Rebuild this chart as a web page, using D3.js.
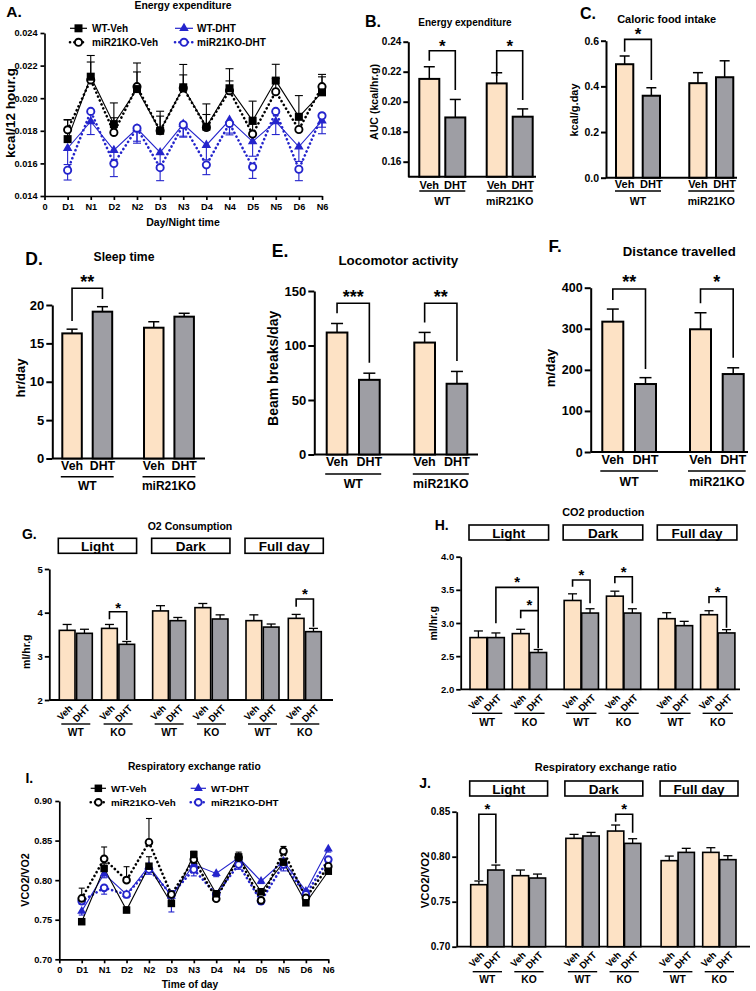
<!DOCTYPE html>
<html><head><meta charset="utf-8">
<script src="https://cdn.jsdelivr.net/npm/d3@7"></script>
<style>body{margin:0;background:#fff;}</style>
</head><body>
<svg id="chart" width="756" height="991" style="background:#fff"></svg>
<script>
// ---------------- DATA ----------------
const timeLabels = ["0","D1","N1","D2","N2","D3","N3","D4","N4","D5","N5","D6","N6"];
const treatments = ["Veh","DHT"];
const genotypesLong = ["WT","miR21KO"];
const genotypesShort = ["WT","KO"];
const periods = ["Light","Dark","Full day"];
const seriesNames = ["WT-Veh","WT-DHT","miR21KO-Veh","miR21KO-DHT"];

// A. Energy expenditure (kcal/12 hour.g)
const eeWTVeh    = [0.01749,0.02132,0.01841,0.02056,0.01800,0.02067,0.01825,0.02061,0.01862,0.02108,0.01886,0.02036];
const eeWTVehErr = [0.0012,0.0013,0.0013,0.0016,0.0012,0.0014,0.0014,0.0012,0.0012,0.0010,0.0013,0.0011];
const eeKOVeh    = [0.01806,0.02112,0.01790,0.02071,0.01800,0.02063,0.01820,0.02046,0.01780,0.02040,0.01808,0.02071];
const eeKOVehErr = [0.0006,0.0011,0.0009,0.0009,0.0009,0.0008,0.0008,0.0006,0.0006,0.0008,0.0006,0.0006];
const eeWTDHT    = [0.01693,0.01857,0.01681,0.01814,0.01667,0.01841,0.01712,0.01866,0.01734,0.01857,0.01702,0.01862];
const eeWTDHTErr = [0.0010,0.0008,0.0008,0.0009,0.0008,0.0008,0.0009,0.0008,0.0009,0.0008,0.0009,0.0008];
const eeKODHT    = [0.01558,0.01919,0.01599,0.01816,0.01574,0.01837,0.01591,0.01845,0.01578,0.01919,0.01564,0.01892];
const eeKODHTErr = [0.0006,0.0007,0.0008,0.0008,0.0008,0.0007,0.0006,0.0007,0.0007,0.0007,0.0007,0.0007];

// I. Respiratory exchange ratio over time
const rerWTVeh    = [0.7475,0.8147,0.7622,0.8176,0.7706,0.8324,0.7828,0.8294,0.7853,0.8227,0.7714,0.8113];
const rerWTVehErr = [0.003,0.006,0.004,0.012,0.004,0.004,0.004,0.006,0.004,0.005,0.003,0.004];
const rerKOVeh    = [0.7769,0.8269,0.8000,0.8479,0.7819,0.8260,0.7765,0.8285,0.7744,0.8366,0.7777,0.8176];
const rerKOVehErr = [0.013,0.015,0.017,0.030,0.004,0.004,0.004,0.004,0.004,0.006,0.004,0.004];
const rerWTDHT    = [0.7609,0.8080,0.7819,0.8176,0.7798,0.8197,0.8084,0.8282,0.7987,0.8240,0.7861,0.8395];
const rerWTDHTErr = [0.005,0.005,0.004,0.006,0.020,0.005,0.004,0.004,0.003,0.006,0.003,0.004];
const rerKODHT    = [0.7735,0.7903,0.7819,0.8134,0.7820,0.8134,0.7820,0.8197,0.7735,0.8197,0.7820,0.8260];
const rerKODHTErr = [0.004,0.008,0.004,0.006,0.004,0.008,0.004,0.006,0.004,0.008,0.004,0.004];

// Bar panels: order WT-Veh, WT-DHT, KO-Veh, KO-DHT (x periods for G,H,J)
const aucEE = [0.2152, 0.1895, 0.2122, 0.1900];
const aucEEErr = [0.0081, 0.0120, 0.0071, 0.0052];
const foodIntake = [0.497, 0.359, 0.414, 0.440];
const foodIntakeErr = [0.036, 0.035, 0.046, 0.072];
const sleepTime = [16.30, 19.13, 17.04, 18.48];
const sleepTimeErr = [0.55, 0.65, 0.78, 0.44];
const locomotor = [111.9, 68.5, 102.7, 64.9];
const locomotorErr = [8.3, 6.1, 9.3, 11.3];
const distance = [317.3, 165.5, 298.8, 189.8];
const distanceErr = [30.7, 15.5, 40.2, 15.2];
const o2 = [3.595,3.527,3.640,3.275, 4.040,3.817,4.115,3.855, 3.817,3.670,3.870,3.565];
const o2Err = [0.135,0.093,0.090,0.065, 0.120,0.073,0.095,0.095, 0.133,0.070,0.090,0.075];
const co2 = [2.780,2.780,2.840,2.555, 3.340,3.150,3.405,3.150, 3.065,2.960,3.125,2.850];
const co2Err = [0.100,0.070,0.065,0.045, 0.100,0.065,0.075,0.065, 0.090,0.065,0.060,0.050];
const rerBar = [0.7689,0.7852,0.7789,0.7763, 0.8204,0.8230,0.8285,0.8148, 0.7956,0.8048,0.8048,0.7967];
const rerBarErr = [0.0041,0.0055,0.0063,0.0044, 0.0044,0.0040,0.0067,0.0052, 0.0051,0.0045,0.0052,0.0044];

// ---------------- DRAWING ----------------
const FONT = '"Liberation Sans", Arial, Helvetica, sans-serif';
const VEHC = "#fde2c5", DHTC = "#9e9ea4", BLUE = "#2424cc";
const svg = d3.select("#chart");

function T(x, y, s, size, o = {}) {
  const t = svg.append("text").attr("x", x).attr("y", y).attr("font-size", size)
    .attr("text-anchor", o.anchor || "middle").attr("dominant-baseline", o.base || "central")
    .attr("font-family", FONT).attr("font-weight", "bold").attr("fill", o.fill || "#000").text(s);
  if (o.rot) t.attr("transform", `rotate(${o.rot},${x},${y})`);
  return t;
}
function star(x, yc, s, size) {
  svg.append("text").attr("x", x).attr("y", yc + 0.56 * size).attr("font-size", size)
    .attr("text-anchor", "middle").attr("font-family", FONT).attr("font-weight", "bold").text(s);
}
function styleAxis(g, size, w) {
  g.attr("font-family", FONT).attr("font-size", size).attr("font-weight", "bold");
  g.selectAll("line").attr("stroke-width", w);
  g.select(".domain").attr("stroke-width", w);
  g.selectAll("text").attr("fill", "#000");
}

function barPanel(c) {
  const y = d3.scaleLinear().domain(c.domain).range([c.bottom, c.top]);
  const x = d3.scaleLinear().domain([0, 1]).range([c.left, c.left + c.step]);
  const slot = i => Math.floor(i / 4) * (c.pStep || 0) + (Math.floor(i / 2) % 2) * c.gStep + (i % 2);
  const bx = i => x(slot(i));
  const cx = i => bx(i) + c.barW / 2;
  const base = y(c.domain[0]);

  const ga = svg.append("g").attr("transform", `translate(${c.axisX},0)`)
    .call(d3.axisLeft(y).tickValues(c.ticks).tickFormat(d3.format(c.fmt)).tickSize(c.tickLen).tickSizeOuter(0).tickPadding(2));
  styleAxis(ga, c.tickFont, c.axisW);
  svg.append("line").attr("x1", c.axisX).attr("x2", c.axisEnd).attr("y1", base).attr("y2", base)
    .attr("stroke", "#000").attr("stroke-width", c.axisW);

  svg.append("g").selectAll("rect").data(c.values).join("rect")
    .attr("x", (d, i) => bx(i)).attr("y", d => y(d)).attr("width", c.barW).attr("height", d => base - y(d))
    .attr("fill", (d, i) => i % 2 ? DHTC : VEHC).attr("stroke", "#000").attr("stroke-width", c.barStroke);

  const eg = svg.append("g").attr("stroke", "#000").attr("stroke-width", c.errW);
  c.values.forEach((v, i) => {
    const yt = y(v + c.errs[i]);
    eg.append("line").attr("x1", cx(i)).attr("x2", cx(i)).attr("y1", y(v)).attr("y2", yt);
    eg.append("line").attr("x1", cx(i) - c.capW / 2).attr("x2", cx(i) + c.capW / 2).attr("y1", yt).attr("y2", yt);
  });

  c.values.forEach((v, i) => {
    if (c.rot) T(cx(i) + 6, base + 9, treatments[i % 2], c.labFont, {anchor: "end", base: "alphabetic", rot: -45});
    else T(cx(i), c.labY, treatments[i % 2], c.labFont);
  });
  for (let k = 0; k < c.values.length / 2; k++) {
    const x1 = bx(2 * k) - c.ulExt, x2 = bx(2 * k + 1) + c.barW + c.ulExt;
    svg.append("line").attr("x1", x1).attr("x2", x2).attr("y1", c.ulY).attr("y2", c.ulY).attr("stroke", "#000").attr("stroke-width", c.ulW || 1.5);
    T((x1 + x2) / 2, c.gY, c.groupNames[k % 2], c.gFont);
  }
  if (c.boxTop) {
    periods.forEach((p, k) => {
      const x1 = bx(4 * k) - 1, x2 = bx(4 * k + 3) + c.barW + 2;
      svg.append("rect").attr("x", x1).attr("y", c.boxTop).attr("width", x2 - x1).attr("height", c.boxH)
        .attr("fill", "#fff").attr("stroke", "#000").attr("stroke-width", 1.6);
      T((x1 + x2) / 2, c.boxTop + c.boxH / 2 + 0.5, p, c.boxFont);
    });
  }
  (c.brackets || []).forEach(b => {
    svg.append("path").attr("d", `M${cx(b.a)},${y(b.la)}V${y(b.top)}H${cx(b.b)}V${y(b.lb)}`)
      .attr("fill", "none").attr("stroke", "#000").attr("stroke-width", c.brW || 1.6);
    star((cx(b.a) + cx(b.b)) / 2, y(b.sy), b.s, c.starSize);
  });
}

function marker(g, type, x, y, color, s) {
  if (type === "square") g.append("rect").attr("x", x - s / 2).attr("y", y - s / 2).attr("width", s).attr("height", s).attr("fill", color);
  else if (type === "triangle") g.append("path").attr("d", d3.symbol(d3.symbolTriangle, s * s * 0.62)()).attr("transform", `translate(${x},${y})`).attr("fill", color);
  else g.append("circle").attr("cx", x).attr("cy", y).attr("r", s * 0.45).attr("fill", "#fff").attr("stroke", color).attr("stroke-width", 1.9);
}

function linePanel(c) {
  const x = d3.scaleLinear().domain([0, 12]).range([c.x0, c.x1]);
  const y = d3.scaleLinear().domain(c.domain).range([c.bottom, c.top]);
  const gy = svg.append("g").attr("transform", `translate(${c.x0},0)`)
    .call(d3.axisLeft(y).tickValues(c.ticks).tickFormat(d3.format(c.fmt)).tickSize(4).tickSizeOuter(0).tickPadding(3));
  styleAxis(gy, c.tickFont, 1.7);
  const gx = svg.append("g").attr("transform", `translate(0,${c.bottom})`)
    .call(d3.axisBottom(x).tickValues(d3.range(13)).tickFormat(i => timeLabels[i]).tickSize(4).tickSizeOuter(0).tickPadding(3));
  styleAxis(gx, c.tickFont, 1.7);

  const layer = svg.append("g");
  c.series.forEach(s => {
    s.vals.forEach((v, i) => {
      const y2 = y(v + s.dir * s.errs[i]);
      layer.append("line").attr("x1", x(i + 1)).attr("x2", x(i + 1)).attr("y1", y(v)).attr("y2", y2).attr("stroke", s.color).attr("stroke-width", 1.1);
      layer.append("line").attr("x1", x(i + 1) - c.cap / 2).attr("x2", x(i + 1) + c.cap / 2).attr("y1", y2).attr("y2", y2).attr("stroke", s.color).attr("stroke-width", 1.1);
    });
  });
  const line = d3.line().x((d, i) => x(i + 1)).y(d => y(d));
  c.series.forEach(s => {
    const p = layer.append("path").datum(s.vals).attr("d", line).attr("fill", "none").attr("stroke", s.color);
    if (s.dotted) p.attr("stroke-width", 2.6).attr("stroke-dasharray", "0.1,4.2").attr("stroke-linecap", "round");
    else p.attr("stroke-width", 1.1);
  });
  c.series.forEach(s => s.vals.forEach((v, i) => marker(layer, s.marker, x(i + 1), y(v), s.color, c.mk)));

  c.legend.forEach(L => {
    const s = c.series.find(q => q.name === L.name);
    const p = svg.append("line").attr("x1", L.x1).attr("x2", L.x2).attr("y1", L.y).attr("y2", L.y).attr("stroke", s.color);
    if (s.dotted) p.attr("stroke-width", 2.6).attr("stroke-dasharray", "0.1,4.2").attr("stroke-linecap", "round");
    else p.attr("stroke-width", 1.2);
    marker(svg, s.marker, (L.x1 + L.x2) / 2, L.y, s.color, c.mk);
    T(L.tx, L.y, s.name, c.legFont, {anchor: "start"});
  });
}

// ---------- Panel A ----------
linePanel({
  x0: 44.5, x1: 322, domain: [0.014, 0.024], bottom: 196, top: 33,
  ticks: [0.014, 0.016, 0.018, 0.020, 0.022, 0.024], fmt: ".3f", tickFont: 9.2, cap: 8, mk: 8, legFont: 10,
  series: [
    {name: seriesNames[1], vals: eeWTDHT, errs: eeWTDHTErr, dir: -1, color: BLUE, dotted: false, marker: "triangle"},
    {name: seriesNames[3], vals: eeKODHT, errs: eeKODHTErr, dir: -1, color: BLUE, dotted: true, marker: "circle"},
    {name: seriesNames[2], vals: eeKOVeh, errs: eeKOVehErr, dir: 1, color: "#000", dotted: true, marker: "circle"},
    {name: seriesNames[0], vals: eeWTVeh, errs: eeWTVehErr, dir: 1, color: "#000", dotted: false, marker: "square"}
  ],
  legend: [
    {name: seriesNames[0], x1: 70, x2: 87, tx: 92, y: 28.3},
    {name: seriesNames[1], x1: 175, x2: 193, tx: 197, y: 28.3},
    {name: seriesNames[2], x1: 70, x2: 87, tx: 92, y: 42.3},
    {name: seriesNames[3], x1: 175, x2: 193, tx: 197, y: 42.3}
  ]
});
T(14, 11.7, "A.", 15.5);
T(183, 5, "Energy expenditure", 10.4);
T(10, 113, "kcal/12 hour.g", 13.5, {rot: -90});
T(183, 222, "Day/Night time", 10.5);

// ---------- Panel B ----------
barPanel({
  values: aucEE, errs: aucEEErr, domain: [0.15, 0.24], bottom: 176.7, top: 41.7,
  ticks: [0.16, 0.18, 0.20, 0.22, 0.24], fmt: ".2f", axisX: 408.3, axisEnd: 536,
  left: 419.3, step: 26, barW: 20, gStep: 2.592, tickLen: 5, tickFont: 10, axisW: 2, barStroke: 2,
  errW: 1.5, capW: 11, labY: 185, labFont: 11, ulY: 191, ulExt: 0, gY: 200.5, gFont: 10.5,
  groupNames: genotypesLong, starSize: 17,
  brackets: [{a: 0, b: 1, top: 0.234, la: 0.2273, lb: 0.2078, sy: 0.2397, s: "*"},
             {a: 2, b: 3, top: 0.234, la: 0.2171, lb: 0.2011, sy: 0.2397, s: "*"}]
});
T(373, 21.7, "B.", 16);
T(465, 22.7, "Energy expenditure", 10);
T(374, 102, "AUC (kcal/hr.g)", 10.6, {rot: -90});

// ---------- Panel C ----------
barPanel({
  values: foodIntake, errs: foodIntakeErr, domain: [0, 0.6], bottom: 177.7, top: 40.7,
  ticks: [0, 0.2, 0.4, 0.6], fmt: ".1f", axisX: 606, axisEnd: 737,
  left: 616, step: 26.7, barW: 17.3, gStep: 2.745, tickLen: 5, tickFont: 10.5, axisW: 2, barStroke: 2,
  errW: 1.5, capW: 10, labY: 184, labFont: 11, ulY: 191, ulExt: 1, gY: 200.7, gFont: 10.5,
  groupNames: genotypesLong, starSize: 17,
  brackets: [{a: 0, b: 1, top: 0.606, la: 0.552, lb: 0.428, sy: 0.644, s: "*"}]
});
T(588, 13, "C.", 16);
T(666.7, 19, "Caloric food intake", 11);
T(574, 110, "kcal/g.day", 11, {rot: -90});

// ---------- Panel D ----------
barPanel({
  values: sleepTime, errs: sleepTimeErr, domain: [0, 20], bottom: 458.5, top: 305,
  ticks: [0, 5, 10, 15, 20], fmt: "d", axisX: 52.3, axisEnd: 205,
  left: 62.3, step: 30.4, barW: 19.5, gStep: 2.688, tickLen: 6, tickFont: 13, axisW: 2, barStroke: 2,
  errW: 1.5, capW: 11, labY: 465.7, labFont: 12.3, ulY: 476.7, ulExt: 1.5, gY: 486, gFont: 12,
  groupNames: genotypesLong, starSize: 18,
  brackets: [{a: 0, b: 1, top: 22.18, la: 17.92, lb: 20.78, sy: 23.5, s: "**"}]
});
T(34, 258.5, "D.", 17.5);
T(124, 256.7, "Sleep time", 12.2);
T(20, 378, "hr/day", 13, {rot: -90});

// ---------- Panel E ----------
barPanel({
  values: locomotor, errs: locomotorErr, domain: [0, 150], bottom: 454.5, top: 291,
  ticks: [0, 50, 100, 150], fmt: "d", axisX: 314.3, axisEnd: 478,
  left: 326.7, step: 32.3, barW: 20.7, gStep: 2.712, tickLen: 6, tickFont: 13, axisW: 2, barStroke: 2,
  errW: 1.5, capW: 12, labY: 462, labFont: 12.5, ulY: 474, ulExt: 1.5, gY: 484, gFont: 12.3,
  groupNames: genotypesLong, starSize: 18,
  brackets: [{a: 0, b: 1, top: 138.7, la: 129.5, lb: 84.1, sy: 147.9, s: "***"},
             {a: 2, b: 3, top: 138.7, la: 121.2, lb: 85.7, sy: 147.9, s: "**"}]
});
T(280, 251, "E.", 17.5);
T(398.3, 260, "Locomotor activity", 13.4);
T(273.3, 368.3, "Beam breaks/day", 14, {rot: -90});

// ---------- Panel F ----------
barPanel({
  values: distance, errs: distanceErr, domain: [0, 400], bottom: 452, top: 287.7,
  ticks: [0, 100, 200, 300, 400], fmt: "d", axisX: 590.7, axisEnd: 748,
  left: 602.3, step: 32.7, barW: 21, gStep: 2.682, tickLen: 6, tickFont: 12.5, axisW: 2, barStroke: 2,
  errW: 1.5, capW: 12, labY: 460, labFont: 12.7, ulY: 471, ulExt: 2, gY: 481.7, gFont: 12.3,
  groupNames: genotypesLong, starSize: 18,
  brackets: [{a: 0, b: 1, top: 396.8, la: 370, lb: 202, sy: 423, s: "**"},
             {a: 2, b: 3, top: 396.8, la: 362, lb: 229.6, sy: 423, s: "*"}]
});
T(555, 246.7, "F.", 17);
T(679.3, 251, "Distance travelled", 13.2);
T(550, 368, "m/day", 13.3, {rot: -90});

// ---------- Panel G ----------
barPanel({
  values: o2, errs: o2Err, domain: [2, 5], bottom: 700, top: 569,
  ticks: [2, 3, 4, 5], fmt: "d", axisX: 49.3, axisEnd: 333,
  left: 59.3, step: 17.3, barW: 15.7, gStep: 2.445, pStep: 5.396, tickLen: 4.5, tickFont: 9.5, axisW: 1.8, barStroke: 1.6,
  errW: 1.3, capW: 9, rot: true, labFont: 9.5, ulY: 724, ulExt: -2, gY: 732, gFont: 10.3, ulW: 1.4,
  groupNames: genotypesShort, boxTop: 538.3, boxH: 15, boxFont: 13.5, starSize: 15,
  brackets: [{a: 2, b: 3, top: 4.022, la: 3.848, lb: 3.374, sy: 4.19, s: "*"},
             {a: 10, b: 11, top: 4.313, la: 4.136, lb: 3.678, sy: 4.5, s: "*"}]
});
T(29.3, 534.3, "G.", 14);
T(190, 525.7, "O2 Consumption", 10.5);
T(26, 651.7, "ml/hr.g", 10.5, {rot: -90});

// ---------- Panel H ----------
barPanel({
  values: co2, errs: co2Err, domain: [2, 4], bottom: 689.3, top: 556.7,
  ticks: [2, 2.5, 3, 3.5, 4], fmt: ".1f", axisX: 460.7, axisEnd: 740,
  left: 470, step: 17.5, barW: 16.8, gStep: 2.417, pStep: 5.38, tickLen: 4.5, tickFont: 9.5, axisW: 1.8, barStroke: 1.6,
  errW: 1.3, capW: 9, rot: true, labFont: 9.5, ulY: 713.3, ulExt: -2, gY: 722.5, gFont: 10.3, ulW: 1.4,
  groupNames: genotypesShort, boxTop: 525, boxH: 15, boxFont: 13.5, starSize: 15,
  brackets: [{a: 1, b: 3, top: 3.538, la: 2.995, lb: 3.186, sy: 3.674, s: "*"},
             {a: 2, b: 3, top: 3.186, la: 3.07, lb: 2.618, sy: 3.32, s: "*"},
             {a: 4, b: 5, top: 3.649, la: 3.548, lb: 3.297, sy: 3.774, s: "*"},
             {a: 6, b: 7, top: 3.698, la: 3.599, lb: 3.297, sy: 3.825, s: "*"},
             {a: 10, b: 11, top: 3.397, la: 3.297, lb: 2.929, sy: 3.523, s: "*"}]
});
T(441.7, 525, "H.", 14);
T(603.3, 511.7, "CO2 production", 10.9);
T(433.3, 623.3, "ml/hr.g", 10.5, {rot: -90});

// ---------- Panel I ----------
linePanel({
  x0: 59.3, x1: 328.3, domain: [0.70, 0.90], bottom: 959.3, top: 801,
  ticks: [0.70, 0.75, 0.80, 0.85, 0.90], fmt: ".2f", tickFont: 9.3, cap: 6, mk: 7.5, legFont: 9.8,
  series: [
    {name: seriesNames[1], vals: rerWTDHT, errs: rerWTDHTErr, dir: -1, color: BLUE, dotted: false, marker: "triangle"},
    {name: seriesNames[3], vals: rerKODHT, errs: rerKODHTErr, dir: -1, color: BLUE, dotted: true, marker: "circle"},
    {name: seriesNames[2], vals: rerKOVeh, errs: rerKOVehErr, dir: 1, color: "#000", dotted: true, marker: "circle"},
    {name: seriesNames[0], vals: rerWTVeh, errs: rerWTVehErr, dir: 1, color: "#000", dotted: false, marker: "square"}
  ],
  legend: [
    {name: seriesNames[0], x1: 90.7, x2: 106, tx: 111, y: 788.3},
    {name: seriesNames[1], x1: 190.7, x2: 206, tx: 211, y: 788.3},
    {name: seriesNames[2], x1: 90.7, x2: 106, tx: 111, y: 802.3},
    {name: seriesNames[3], x1: 190.7, x2: 206, tx: 211, y: 802.3}
  ]
});
T(29.3, 778.3, "I.", 14);
T(194.3, 766.7, "Respiratory exchange ratio", 10.3);
T(25, 880, "VCO2/VO2", 10.7, {rot: -90});
T(190, 984, "Time of day", 10.2);

// ---------- Panel J ----------
barPanel({
  values: rerBar, errs: rerBarErr, domain: [0.70, 0.85], bottom: 946.7, top: 811.7,
  ticks: [0.70, 0.75, 0.80, 0.85], fmt: ".2f", axisX: 456.7, axisEnd: 750,
  left: 470.7, step: 17, barW: 16.3, gStep: 2.447, pStep: 5.6, tickLen: 4.5, tickFont: 10, axisW: 1.8, barStroke: 1.6,
  errW: 1.3, capW: 9, rot: true, labFont: 9.5, ulY: 971.7, ulExt: -2, gY: 979.5, gFont: 10.3, ulW: 1.4,
  groupNames: genotypesShort, boxTop: 781, boxH: 15, boxFont: 13.5, starSize: 15,
  brackets: [{a: 0, b: 1, top: 0.8471, la: 0.7741, lb: 0.7927, sy: 0.8563, s: "*"},
             {a: 6, b: 7, top: 0.8471, la: 0.8389, lb: 0.8267, sy: 0.8563, s: "*"}]
});
T(425, 783.3, "J.", 14);
T(605.7, 767.3, "Respiratory exchange ratio", 11);
T(425, 880, "VCO2/VO2", 11.3, {rot: -90});
</script>
</body></html>
